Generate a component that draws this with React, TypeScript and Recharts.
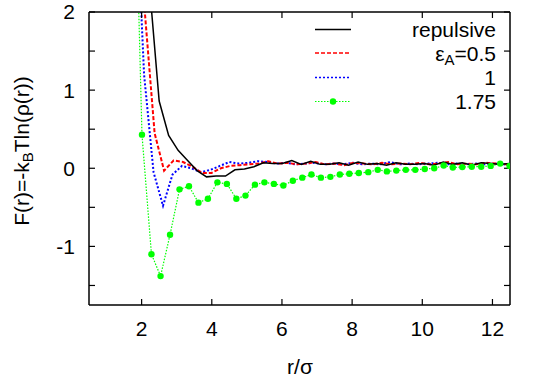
import React from "react";
import { LineChart, Line, XAxis, YAxis, Legend } from "recharts";

const FONT = '"Liberation Sans", Arial, Helvetica, sans-serif';

// r/sigma grids (each curve was binned a bit differently)
const rRepulsive = [1.96, 2.23, 2.5, 2.77, 3.04, 3.31, 3.58, 3.85, 4.12, 4.39, 4.66, 4.93, 5.2, 5.47, 5.74, 6.01, 6.28, 6.55, 6.82, 7.09, 7.36, 7.63, 7.9, 8.17, 8.44, 8.71, 8.98, 9.25, 9.52, 9.79, 10.06, 10.33, 10.6, 10.87, 11.14, 11.41, 11.68, 11.95, 12.22, 12.49];
const fRepulsive = [6, 2.3, 0.86, 0.42, 0.23, 0.1, -0.03, -0.11, -0.1, -0.1, -0.02, -0.01, 0.02, 0.07, 0.06, 0.06, 0.1, 0.05, 0.09, 0.05, 0.05, 0.07, 0.04, 0.08, 0.05, 0.06, 0.04, 0.07, 0.05, 0.05, 0.06, 0.04, 0.08, 0.05, 0.07, 0.04, 0.07, 0.06, 0.05, 0.06];

const rEps05 = [1.83, 2.1, 2.37, 2.64, 2.91, 3.18, 3.45, 3.72, 3.99, 4.26, 4.53, 4.8, 5.07, 5.34, 5.61, 5.88, 6.15, 6.42, 6.69, 6.96, 7.23, 7.5, 7.77, 8.04, 8.31, 8.58, 8.85, 9.12, 9.39, 9.66, 9.93, 10.2, 10.47, 10.74, 11.01, 11.28, 11.55, 11.82, 12.09, 12.36, 12.63];
const fEps05 = [4.5, 1.95, 0.45, -0.03, 0.1, 0.08, 0.02, -0.06, -0.06, 0.0, 0.03, 0.04, 0.05, 0.06, 0.09, 0.06, 0.07, 0.05, 0.06, 0.08, 0.05, 0.06, 0.04, 0.07, 0.06, 0.05, 0.07, 0.05, 0.06, 0.05, 0.07, 0.05, 0.06, 0.08, 0.05, 0.06, 0.05, 0.07, 0.06, 0.05, 0.06];

const rEps1 = [1.8, 2.07, 2.34, 2.61, 2.88, 3.15, 3.42, 3.69, 3.96, 4.23, 4.5, 4.77, 5.04, 5.31, 5.58, 5.85, 6.12, 6.39, 6.66, 6.93, 7.2, 7.47, 7.74, 8.01, 8.28, 8.55, 8.82, 9.09, 9.36, 9.63, 9.9, 10.17, 10.44, 10.71, 10.98, 11.25, 11.52, 11.79, 12.06, 12.33, 12.6];
const fEps1 = [3.9, 1.2, -0.05, -0.48, -0.08, 0.03, 0.0, -0.05, -0.02, 0.03, 0.08, 0.06, 0.07, 0.09, 0.08, 0.06, 0.07, 0.05, 0.06, 0.07, 0.05, 0.06, 0.05, 0.07, 0.05, 0.06, 0.05, 0.08, 0.05, 0.06, 0.05, 0.06, 0.07, 0.05, 0.06, 0.05, 0.06, 0.05, 0.06, 0.05, 0.05];

const rEps175 = [1.74, 2.01, 2.28, 2.54, 2.81, 3.08, 3.35, 3.62, 3.89, 4.16, 4.43, 4.7, 4.96, 5.23, 5.5, 5.77, 6.04, 6.31, 6.58, 6.84, 7.11, 7.38, 7.65, 7.92, 8.19, 8.46, 8.73, 8.99, 9.26, 9.53, 9.8, 10.07, 10.34, 10.61, 10.87, 11.14, 11.41, 11.68, 11.95, 12.22, 12.49];
const fEps175 = [5.1, 0.43, -1.1, -1.38, -0.85, -0.27, -0.23, -0.44, -0.39, -0.18, -0.2, -0.39, -0.35, -0.21, -0.18, -0.2, -0.22, -0.16, -0.12, -0.08, -0.12, -0.11, -0.08, -0.07, -0.06, -0.05, -0.02, -0.04, -0.03, -0.02, -0.02, -0.01, 0.0, 0.035, 0.01, 0.015, 0.02, 0.02, 0.03, 0.06, 0.03];

const xTicks = [2, 4, 6, 8, 10, 12];
const yTicks = [-1.5, -1, -0.5, 0, 0.5, 1, 1.5, 2];

const toPoints = (xs: number[], ys: number[]) => xs.map((x, i) => ({ x, y: ys[i] }));

const dataRepulsive = toPoints(rRepulsive, fRepulsive);
const dataEps05 = toPoints(rEps05, fEps05);
const dataEps1 = toPoints(rEps1, fEps1);
const dataEps175 = toPoints(rEps175, fEps175);

const tickStyle = { fontSize: 21, fill: "#000", fontFamily: FONT };

function YLabel() {
  return (
    <text
      x={21}
      y={151}
      transform="rotate(-90 21 151)"
      textAnchor="middle"
      dominantBaseline="central"
      fontSize={21}
      fontFamily={FONT}
      fill="#000"
    >
      F(r)=-k
      <tspan dy={6} fontSize={15}>B</tspan>
      <tspan dy={-6}>Tln(ρ(r))</tspan>
    </text>
  );
}

function XLabel() {
  return (
    <text x={300} y={374} textAnchor="middle" fontSize={21} fontFamily={FONT} fill="#000">
      r/σ
    </text>
  );
}

function LegendBox() {
  const rows = [
    { y: 19.5, color: "#000", dash: undefined, w: 1.5 },
    { y: 43, color: "#ff0000", dash: "4 2", w: 1.5 },
    { y: 67.5, color: "#0000ff", dash: "2 2", w: 1.5 },
    { y: 91.5, color: "#00ff00", dash: "1.5 1.5", w: 1.2 },
  ];
  return (
    <svg width={200} height={110} style={{ overflow: "visible" }}>
      {rows.map((r, i) => (
        <line key={i} x1={15} x2={51} y1={r.y} y2={r.y} stroke={r.color} strokeWidth={r.w} strokeDasharray={r.dash} />
      ))}
      <circle cx={33} cy={91.5} r={3.2} fill="#00ff00" />
      <g fontSize={21} fontFamily={FONT} fill="#000" textAnchor="end" dominantBaseline="central">
        <text x={196} y={19.5}>repulsive</text>
        <text x={196} y={43}>
          ε<tspan dy={6} fontSize={15}>A</tspan>
          <tspan dy={-6}>=0.5</tspan>
        </text>
        <text x={196} y={67.5}>1</text>
        <text x={196} y={91.5}>1.75</text>
      </g>
    </svg>
  );
}

export default function App() {
  return (
    <div style={{ position: "absolute", left: 0, top: 0, background: "#fff" }}>
      <LineChart width={545} height={382} margin={{ top: 10, right: 25, left: 9, bottom: 37 }}>
        <XAxis
          dataKey="x"
          type="number"
          domain={[0.5, 12.5]}
          allowDataOverflow
          ticks={xTicks}
          tickSize={-6}
          tickMargin={22}
          height={40}
          tick={tickStyle}
          stroke="#000"
          axisLine={{ stroke: "#000", strokeWidth: 1.5 }}
          tickLine={{ stroke: "#000", strokeWidth: 1.2 }}
          label={<XLabel />}
        />
        <XAxis
          xAxisId="top"
          orientation="top"
          dataKey="x"
          type="number"
          domain={[0.5, 12.5]}
          allowDataOverflow
          ticks={xTicks}
          tickSize={-6}
          height={2}
          tickFormatter={() => ""}
          axisLine={{ stroke: "#000", strokeWidth: 1.5 }}
          tickLine={{ stroke: "#000", strokeWidth: 1.2 }}
        />
        <YAxis
          type="number"
          domain={[-1.75, 2]}
          allowDataOverflow
          ticks={yTicks}
          tickSize={-6}
          tickMargin={20}
          width={80}
          interval={0}
          tick={tickStyle}
          tickFormatter={(v: number) => (Number.isInteger(v) ? String(v) : "")}
          axisLine={{ stroke: "#000", strokeWidth: 1.5 }}
          tickLine={{ stroke: "#000", strokeWidth: 1.2 }}
          label={<YLabel />}
        />
        <YAxis
          yAxisId="right"
          orientation="right"
          type="number"
          domain={[-1.75, 2]}
          allowDataOverflow
          ticks={yTicks}
          tickSize={-6}
          width={10}
          interval={0}
          tickFormatter={() => ""}
          axisLine={{ stroke: "#000", strokeWidth: 1.5 }}
          tickLine={{ stroke: "#000", strokeWidth: 1.2 }}
        />
        <Legend
          layout="vertical"
          align="center"
          verticalAlign="middle"
          content={() => <LegendBox />}
          wrapperStyle={{ left: 300, top: 10, width: 200, height: 110 }}
        />
        <Line data={dataEps175} dataKey="y" name="1.75" stroke="#00ff00" strokeWidth={1.2} strokeDasharray="1.5 1.5"
          dot={{ r: 3.2, fill: "#00ff00", stroke: "#00ff00", strokeWidth: 0 }} isAnimationActive={false} />
        <Line data={dataEps1} dataKey="y" name="1" stroke="#0000ff" strokeWidth={2} strokeDasharray="2 2" dot={false} isAnimationActive={false} />
        <Line data={dataEps05} dataKey="y" name="0.5" stroke="#ff0000" strokeWidth={2} strokeDasharray="4 2" dot={false} isAnimationActive={false} />
        <Line data={dataRepulsive} dataKey="y" name="repulsive" stroke="#000" strokeWidth={1.5} dot={false} isAnimationActive={false} />
      </LineChart>
    </div>
  );
}
